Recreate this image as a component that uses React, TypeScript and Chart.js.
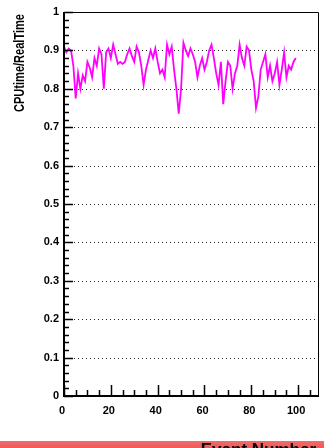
import React, { useEffect, useRef } from "react";
import { Chart, registerables } from "chart.js";

Chart.register(...registerables);

// CPU time / real time per event (event number = index)
const cpuRatio: number[] = [
  0.91, 0.895, 0.905, 0.9, 0.86, 0.775, 0.84, 0.8, 0.835, 0.82,
  0.87, 0.855, 0.83, 0.88, 0.86, 0.905, 0.89, 0.8, 0.895, 0.905,
  0.88, 0.915, 0.89, 0.865, 0.87, 0.865, 0.87, 0.89, 0.905, 0.885,
  0.87, 0.91, 0.895, 0.86, 0.81, 0.85, 0.875, 0.9, 0.88, 0.905,
  0.87, 0.84, 0.85, 0.83, 0.915, 0.89, 0.91, 0.85, 0.8, 0.735,
  0.8, 0.92, 0.9, 0.885, 0.905, 0.89, 0.87, 0.83, 0.86, 0.88,
  0.85, 0.87, 0.9, 0.915, 0.88, 0.84, 0.81, 0.87, 0.76, 0.82,
  0.87, 0.86, 0.8, 0.84, 0.86, 0.915, 0.88, 0.86, 0.91, 0.9,
  0.85, 0.82, 0.75, 0.78, 0.85, 0.87, 0.89, 0.83, 0.86, 0.82,
  0.84, 0.87, 0.81, 0.85, 0.895, 0.83, 0.86, 0.85, 0.87, 0.88,
];

const xTickValues: number[] = [0, 20, 40, 60, 80, 100];
const xTickLabels: string[] = ["0", "20", "40", "60", "80", "100"];
const yTickValues: number[] = [0, 0.1, 0.2, 0.3, 0.4, 0.5, 0.6, 0.7, 0.8, 0.9, 1];
const yTickLabels: string[] = ["0", "0.1", "0.2", "0.3", "0.4", "0.5", "0.6", "0.7", "0.8", "0.9", "1"];
const xRange: number[] = [0, 108.9];
const yRange: number[] = [0, 1];
const xTitle = "Event Number";
const yTitle = "CPUtime/RealTime";

const rootStyle = {
  id: "rootStyle",
  beforeDatasetsDraw(chart: any) {
    const { ctx, chartArea } = chart;
    const ys = chart.scales.y;
    ctx.save();
    ctx.strokeStyle = "#222";
    ctx.lineWidth = 1;
    ctx.setLineDash([1, 3]);
    yTickValues.forEach((v) => {
      if (v <= 0 || v >= 1) return;
      const py = Math.round(ys.getPixelForValue(v)) + 0.5;
      ctx.beginPath();
      ctx.moveTo(chartArea.left + 6, py);
      ctx.lineTo(chartArea.right - 2, py);
      ctx.stroke();
    });
    ctx.restore();
  },
  afterDraw(chart: any) {
    const { ctx, chartArea } = chart;
    const xs = chart.scales.x;
    const ys = chart.scales.y;
    const L = chartArea.left, R = chartArea.right, T = chartArea.top, B = chartArea.bottom;
    ctx.save();
    ctx.setLineDash([]);
    ctx.strokeStyle = "#000";
    ctx.lineWidth = 1;
    ctx.beginPath();
    ctx.moveTo(L, T + 0.5);
    ctx.lineTo(R - 0.5, T + 0.5);
    ctx.lineTo(R - 0.5, B);
    ctx.stroke();
    ctx.lineWidth = 2;
    ctx.beginPath();
    ctx.moveTo(L, T);
    ctx.lineTo(L, B);
    ctx.lineTo(R, B);
    ctx.stroke();
    ctx.lineWidth = 1.5;
    for (let k = 0; k < yTickValues.length; k++) {
      const v = yTickValues[k];
      const py = Math.round(ys.getPixelForValue(v)) + 0.5;
      ctx.beginPath();
      ctx.moveTo(L, py);
      ctx.lineTo(L + 9, py);
      ctx.stroke();
      if (k < yTickValues.length - 1) {
        const step = (yTickValues[k + 1] - v) / 5;
        for (let m = 1; m < 5; m++) {
          const pm = Math.round(ys.getPixelForValue(v + step * m)) + 0.5;
          ctx.beginPath();
          ctx.moveTo(L, pm);
          ctx.lineTo(L + 5, pm);
          ctx.stroke();
        }
      }
    }
    for (let k = 0; k < xTickValues.length; k++) {
      const v = xTickValues[k];
      const px = Math.round(xs.getPixelForValue(v)) + 0.5;
      ctx.beginPath();
      ctx.moveTo(px, B);
      ctx.lineTo(px, B - 11);
      ctx.stroke();
      const step = (xTickValues[1] - xTickValues[0]) / 4;
      for (let m = 1; m < 4; m++) {
        const mv = v + step * m;
        if (mv > xRange[1]) break;
        const pm = Math.round(xs.getPixelForValue(mv)) + 0.5;
        ctx.beginPath();
        ctx.moveTo(pm, B);
        ctx.lineTo(pm, B - 6);
        ctx.stroke();
      }
    }
    ctx.fillStyle = "#000";
    ctx.font = "bold 14px 'Liberation Sans', Arial, sans-serif";
    ctx.textAlign = "right";
    ctx.textBaseline = "alphabetic";
    const w = ctx.measureText(yTitle).width;
    ctx.save();
    ctx.translate(24, 14);
    ctx.rotate(-Math.PI / 2);
    ctx.scale(98 / w, 1);
    ctx.fillText(yTitle, 0, 0);
    ctx.restore();
    ctx.font = "bold 17px 'Liberation Sans', Arial, sans-serif";
    ctx.textAlign = "right";
    ctx.fillText(xTitle, 316, 455);
    ctx.restore();
  },
};

export default function App() {
  const ref = useRef<HTMLCanvasElement | null>(null);
  useEffect(() => {
    if (!ref.current) return;
    const points = cpuRatio.map((v, i) => ({ x: i, y: v }));
    const tickFont = { family: "'Liberation Sans', Arial, sans-serif", size: 11, weight: "bold" as const };
    const chart = new Chart(ref.current, {
      type: "line",
      data: {
        datasets: [
          {
            data: points,
            borderColor: "#ff00ff",
            borderWidth: 1.8,
            pointRadius: 0,
            tension: 0,
            fill: false,
          },
        ],
      },
      plugins: [rootStyle],
      options: {
        animation: false,
        responsive: false,
        devicePixelRatio: 1,
        layout: { padding: { top: 12, right: 5, left: 0, bottom: 0 } },
        plugins: { legend: { display: false }, tooltip: { enabled: false } },
        scales: {
          x: {
            type: "linear",
            min: xRange[0],
            max: xRange[1],
            afterBuildTicks: (scale: any) => {
              scale.ticks = xTickValues.map((v) => ({ value: v }));
            },
            afterFit: (scale: any) => {
              scale.height = 52;
            },
            grid: { display: false, drawTicks: false },
            border: { display: false },
            ticks: {
              color: "#000",
              font: tickFont,
              padding: 8,
              labelOffset: -2,
              maxRotation: 0,
              autoSkip: false,
              callback: (v: any) => {
                const idx = xTickValues.indexOf(Number(v));
                return idx >= 0 ? xTickLabels[idx] : "";
              },
            },
          },
          y: {
            type: "linear",
            min: yRange[0],
            max: yRange[1],
            afterBuildTicks: (scale: any) => {
              scale.ticks = yTickValues.map((v) => ({ value: v }));
            },
            afterFit: (scale: any) => {
              scale.width = 64;
            },
            grid: { display: false, drawTicks: false },
            border: { display: false },
            ticks: {
              color: "#000",
              font: tickFont,
              padding: 5,
              autoSkip: false,
              callback: (v: any) => {
                const idx = yTickValues.findIndex((t) => Math.abs(t - Number(v)) < 1e-6);
                return idx >= 0 ? yTickLabels[idx] : "";
              },
            },
          },
        },
      },
    });
    return () => chart.destroy();
  }, []);
  return (
    <div
      style={{
        position: "absolute",
        left: 0,
        top: 0,
        width: 324,
        height: 448,
        background: "linear-gradient(to bottom, #ffffff 0px, #ffffff 441px, #f26a6a 441px, #f05a5a 448px)",
      }}
    >
      <canvas ref={ref} width={324} height={448} style={{ display: "block" }} />
    </div>
  );
}
